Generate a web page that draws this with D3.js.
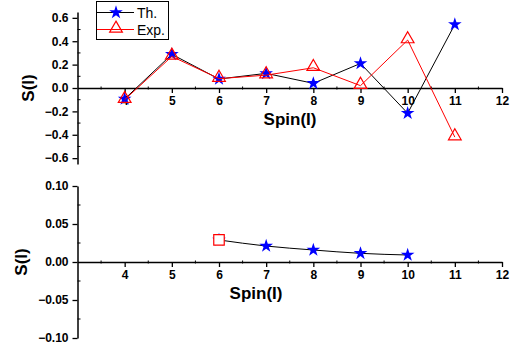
<!DOCTYPE html>
<html>
<head>
<meta charset="utf-8">
<script src="https://cdn.jsdelivr.net/npm/d3@7"></script>
<style>
  body { margin: 0; background: #fff; }
  svg { display: block; font-family: "Liberation Sans", Arial, sans-serif; }
</style>
</head>
<body>
<svg width="514" height="349"></svg>
<script>
// spin values
var spins = [4, 5, 6, 7, 8, 9, 10, 11];
var thTop = [-0.094, 0.288, 0.077, 0.125, 0.04, 0.21, -0.216, 0.544];
var expTop = [-0.10, 0.27, 0.08, 0.11, 0.173, 0.02, 0.41, -0.42];

var spinsBottom = [6, 7, 8, 9, 10];
var thBottom = [0.029, 0.021, 0.0158, 0.0114, 0.0092];
var expBottomSpin = [6];
var expBottom = [0.029];

var xTicks = [4, 5, 6, 7, 8, 9, 10, 11, 12];
var yTicksTop = [0.6, 0.4, 0.2, 0.0, -0.2, -0.4, -0.6];
var yTicksBottom = [0.10, 0.05, 0.00, -0.05, -0.10];

var svg = d3.select('svg');

var x = d3.scaleLinear().domain([3, 12]).range([77.5, 502]);

function drawPanel(y, yTicks, minorStep, fmt, yLabelX, spinLabelX) {
  var g = svg.append('g');
  var y0 = y(0);

  // y axis
  var yAx = g.append('g').attr('transform', 'translate(' + x(3) + ',0)')
    .call(d3.axisLeft(y).tickValues(yTicks).tickFormat(fmt).tickSize(5).tickSizeOuter(0).tickPadding(4));
  yAx.select('.domain').attr('stroke-width', 1.5);
  yAx.selectAll('.tick line').attr('stroke-width', 1.3);
  yAx.selectAll('text').attr('font-size', 12).attr('font-weight', 'bold').attr('fill', '#000');

  // minor y ticks, inward
  var lo = y.domain()[0], hi = y.domain()[1];
  var minors = d3.range(Math.ceil(lo / minorStep) * minorStep, hi, minorStep)
    .filter(function(v) { return yTicks.every(function(t) { return Math.abs(t - v) > 1e-6; }); });
  g.selectAll('.yminor').data(minors).enter().append('line')
    .attr('x1', x(3)).attr('x2', x(3) + 3)
    .attr('y1', function(d) { return y(d); }).attr('y2', function(d) { return y(d); })
    .attr('stroke', '#000').attr('stroke-width', 1);

  // x axis at zero
  var xAx = g.append('g').attr('transform', 'translate(0,' + y0 + ')')
    .call(d3.axisBottom(x).tickValues(xTicks).tickSize(5).tickSizeOuter(0).tickPadding(3));
  xAx.select('.domain').attr('stroke-width', 1.5);
  xAx.selectAll('.tick line').attr('stroke-width', 1.3);
  xAx.selectAll('text').attr('font-size', 12).attr('font-weight', 'bold').attr('fill', '#000');

  var xMinor = d3.range(3.5, 12, 1);
  g.selectAll('.xminor').data(xMinor).enter().append('line')
    .attr('x1', function(d) { return x(d); }).attr('x2', function(d) { return x(d); })
    .attr('y1', y0 - 1.5).attr('y2', y0 + 1.5)
    .attr('stroke', '#000').attr('stroke-width', 1);

  g.append('text').attr('x', spinLabelX).attr('y', y0 + 37)
    .attr('text-anchor', 'middle').attr('font-size', 17).attr('font-weight', 'bold')
    .text('Spin(I)');

  g.append('text')
    .attr('transform', 'translate(' + yLabelX + ',' + y0 + ') rotate(-90)')
    .attr('text-anchor', 'middle').attr('dy', '0.35em')
    .attr('font-size', 17).attr('font-weight', 'bold')
    .text('S(I)');
  return g;
}

var star = d3.symbol().type(d3.symbolStar).size(58);
var tri = d3.symbol().type(d3.symbolTriangle).size(70);
var sq = d3.symbol().type(d3.symbolSquare).size(110);

// ---------- top panel ----------
var yTop = d3.scaleLinear().domain([-0.65, 0.65]).range([164, 12]);
var gTop = drawPanel(yTop, yTicksTop, 0.1, d3.format('.1f'), 28, 290);

var line = d3.line();
var thPts = spins.map(function(s, i) { return [x(s), yTop(thTop[i])]; });
var expPts = spins.map(function(s, i) { return [x(s), yTop(expTop[i])]; });

gTop.append('path').attr('d', line(thPts)).attr('fill', 'none').attr('stroke', '#000').attr('stroke-width', 1);
gTop.selectAll('.st').data(thPts).enter().append('path')
  .attr('d', star).attr('transform', function(d) { return 'translate(' + d[0] + ',' + d[1] + ')'; })
  .attr('fill', '#0000ff');
gTop.append('path').attr('d', line(expPts)).attr('fill', 'none').attr('stroke', '#ff0000').attr('stroke-width', 1);
gTop.selectAll('.tr').data(expPts).enter().append('path')
  .attr('d', tri).attr('transform', function(d) { return 'translate(' + d[0] + ',' + (d[1] - 1) + ')'; })
  .attr('fill', 'none').attr('stroke', '#ff0000').attr('stroke-width', 1.2);

// legend
var lg = svg.append('g');
lg.append('rect').attr('x', 96.5).attr('y', 1.5).attr('width', 72).attr('height', 38)
  .attr('fill', '#fff').attr('stroke', '#000').attr('stroke-width', 1);
lg.append('line').attr('x1', 97).attr('x2', 134).attr('y1', 12.5).attr('y2', 12.5).attr('stroke', '#000');
lg.append('path').attr('d', star).attr('transform', 'translate(116,12.5)').attr('fill', '#0000ff');
lg.append('text').attr('x', 137).attr('y', 17.5).attr('font-size', 14).text('Th.');
lg.append('line').attr('x1', 97).attr('x2', 134).attr('y1', 29.5).attr('y2', 29.5).attr('stroke', '#ff0000');
lg.append('path').attr('d', tri).attr('transform', 'translate(116,28.5)')
  .attr('fill', 'none').attr('stroke', '#ff0000').attr('stroke-width', 1.2);
lg.append('text').attr('x', 137).attr('y', 34.5).attr('font-size', 14).text('Exp.');

// ---------- bottom panel ----------
var yBot = d3.scaleLinear().domain([-0.1, 0.1]).range([338, 186]);
var gBot = drawPanel(yBot, yTicksBottom, 0.025, d3.format('.2f'), 21, 256);

var thBPts = spinsBottom.map(function(s, i) { return [x(s), yBot(thBottom[i])]; });
gBot.append('path').attr('d', d3.line().curve(d3.curveMonotoneX)(thBPts))
  .attr('fill', 'none').attr('stroke', '#000').attr('stroke-width', 1);
gBot.selectAll('.st').data(thBPts).enter().append('path')
  .attr('d', star).attr('transform', function(d) { return 'translate(' + d[0] + ',' + d[1] + ')'; })
  .attr('fill', '#0000ff');
gBot.selectAll('.sq').data(expBottomSpin).enter().append('path')
  .attr('d', sq).attr('transform', function(d, i) { return 'translate(' + x(d) + ',' + yBot(expBottom[i]) + ')'; })
  .attr('fill', '#fff').attr('stroke', '#ff0000').attr('stroke-width', 1.2);
</script>
</body>
</html>
